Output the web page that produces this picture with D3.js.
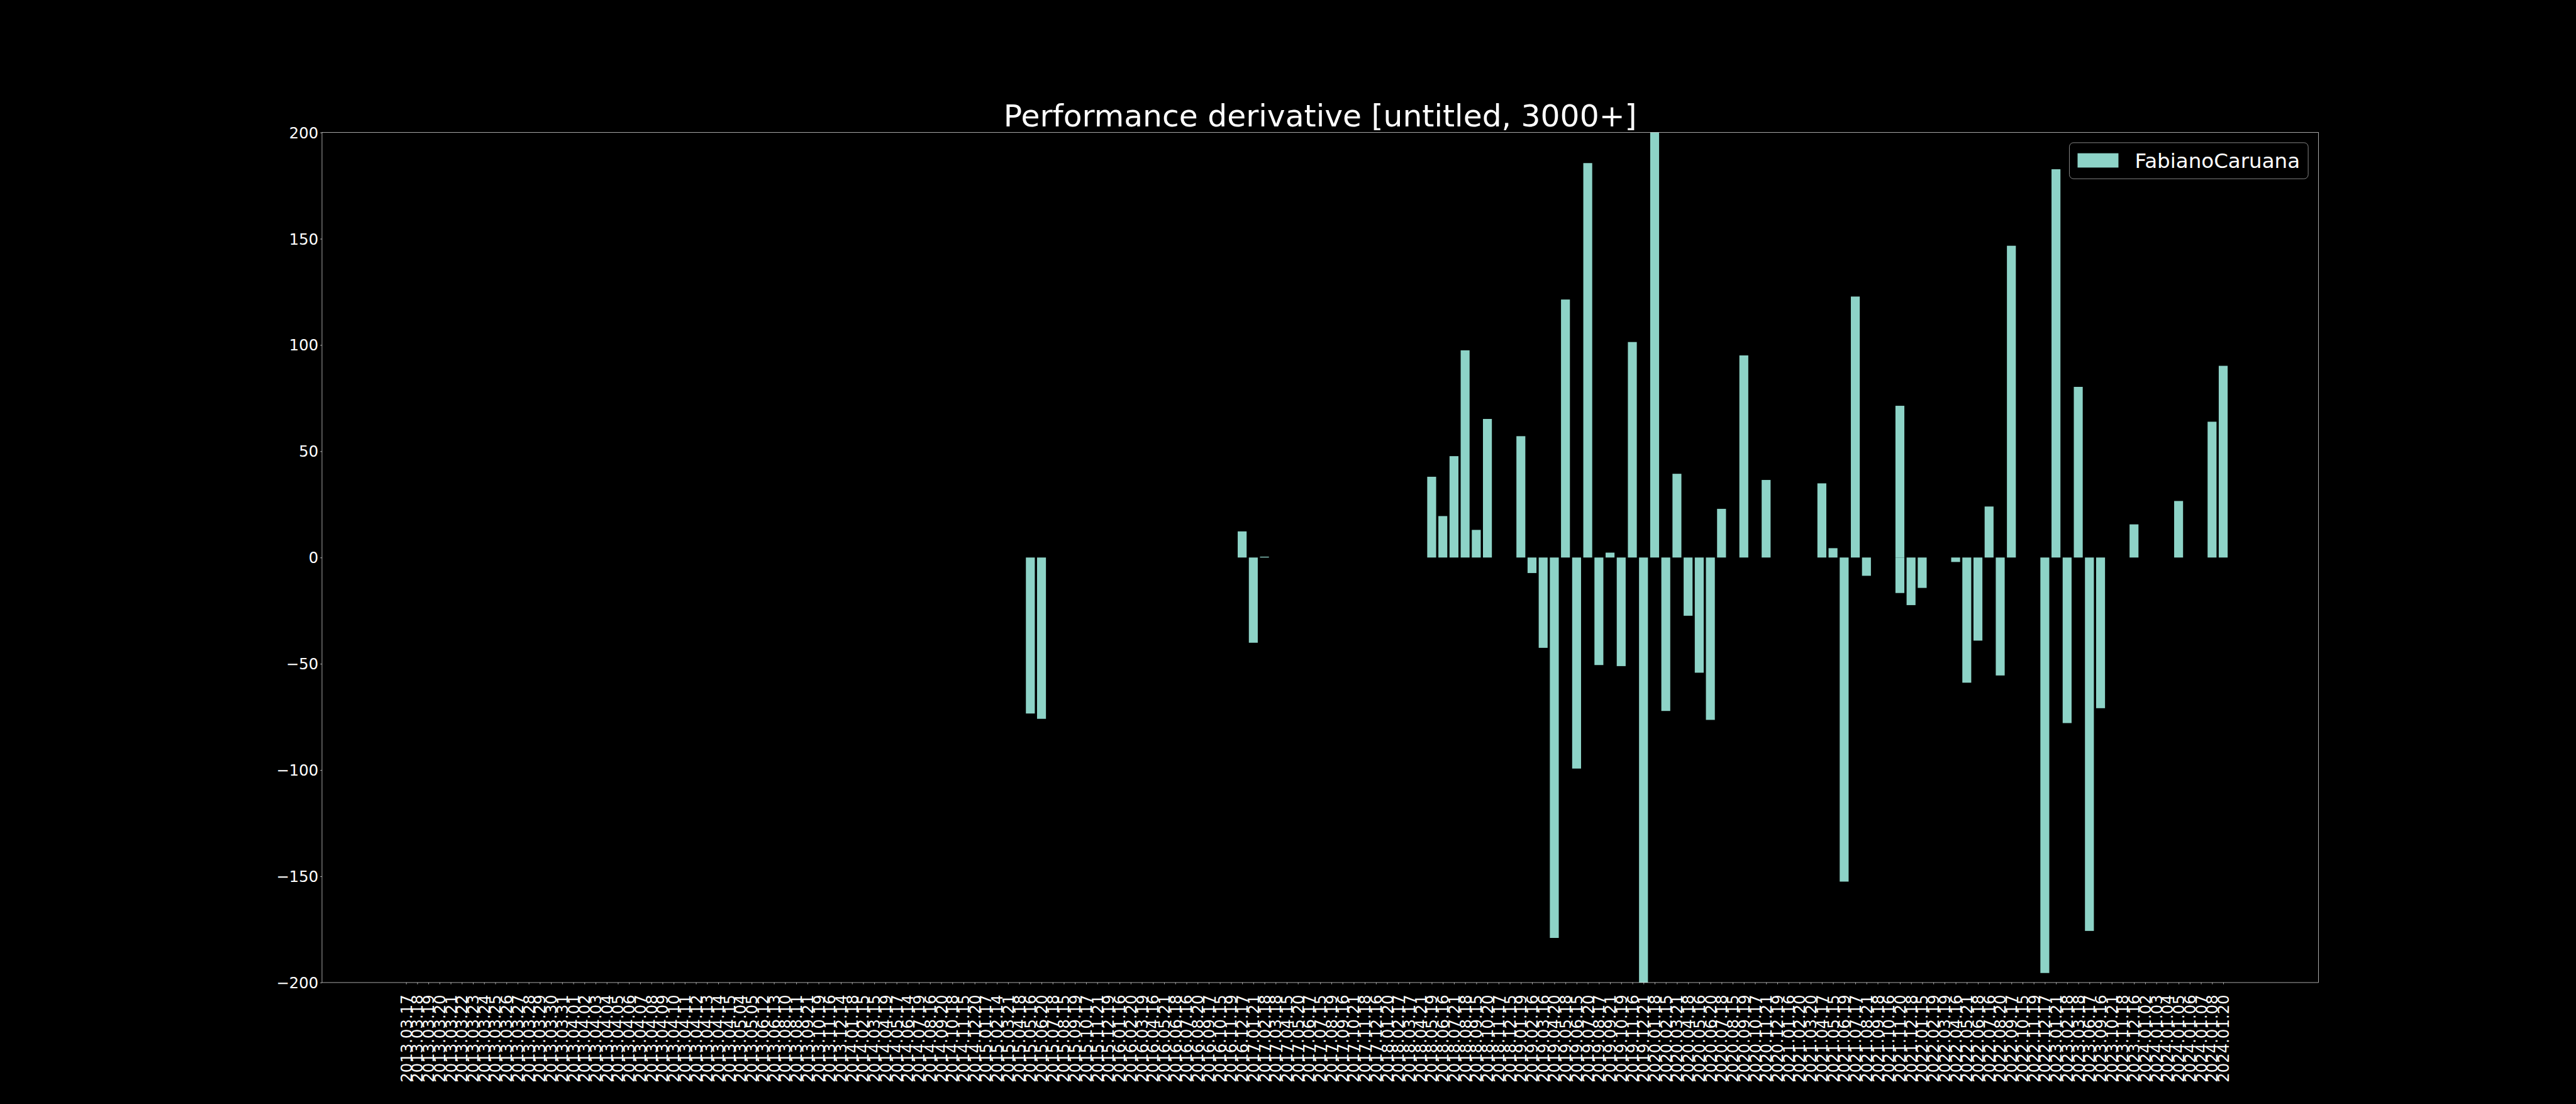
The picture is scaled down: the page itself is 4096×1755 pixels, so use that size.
<!DOCTYPE html>
<html>
<head>
<meta charset="utf-8">
<script src="https://cdn.jsdelivr.net/npm/d3@7"></script>
<style>
html, body { margin: 0; padding: 0; background: #000; overflow: hidden; }
svg { display: block; }
</style>
</head>
<body>
<svg id="chart" width="4096" height="1755"></svg>
<script>
// ---------------- DATA (labels estimated where unreadable) ----------------
const titleText = "Performance derivative [untitled, 3000+]";
const seriesName = "FabianoCaruana";

const dates = [
  // 0-29
  "2013.03.17","2013.03.18","2013.03.19","2013.03.20","2013.03.21","2013.03.22","2013.03.23","2013.03.24","2013.03.25","2013.03.26",
  "2013.03.27","2013.03.28","2013.03.29","2013.03.30","2013.03.31","2013.04.01","2013.04.02","2013.04.03","2013.04.04","2013.04.05",
  "2013.04.06","2013.04.07","2013.04.08","2013.04.09","2013.04.10","2013.04.11","2013.04.12","2013.04.13","2013.04.14","2013.04.15",
  // 30-40
  "2013.05.04","2013.05.05","2013.06.12","2013.06.13","2013.08.10","2013.08.11","2013.09.21","2013.10.19","2013.11.16","2013.12.14","2014.01.18",
  // 41-55
  "2014.02.15","2014.03.15","2014.04.19","2014.05.17","2014.06.14","2014.07.19","2014.08.16","2014.09.20","2014.10.18","2014.11.15",
  "2014.12.20","2015.01.17","2015.02.14","2015.03.21","2015.04.18",
  // 56-77
  "2015.05.16","2015.06.20","2015.07.18","2015.08.15","2015.09.19","2015.10.17","2015.11.21","2015.12.19","2016.01.16","2016.02.20",
  "2016.03.19","2016.04.16","2016.05.21","2016.06.18","2016.07.16","2016.08.20","2016.09.17","2016.10.15","2016.11.19","2016.12.17",
  "2017.01.21","2017.02.18",
  // 78-91
  "2017.03.18","2017.04.15","2017.05.20","2017.06.17","2017.07.15","2017.08.19","2017.09.16","2017.10.21","2017.11.18","2017.12.16",
  "2018.01.20","2018.02.17","2018.03.17","2018.04.21",
  // 92-118
  "2018.05.19","2018.06.16","2018.07.21","2018.08.18","2018.09.15","2018.10.20","2018.11.17","2018.12.15","2019.01.19","2019.02.16",
  "2019.03.16","2019.04.20","2019.05.18","2019.06.15","2019.07.20","2019.08.17","2019.09.21","2019.10.19","2019.11.16","2019.12.21",
  "2020.01.18","2020.02.15","2020.03.21","2020.04.18","2020.05.16","2020.06.20","2020.07.18",
  // 119-133
  "2020.08.15","2020.09.19","2020.10.17","2020.11.21","2020.12.19","2021.01.16","2021.02.20","2021.03.20","2021.04.17","2021.05.15",
  "2021.06.19","2021.07.17","2021.08.21","2021.09.18","2021.10.16",
  // 134 (two entries share one date -> one category)
  "2021.11.20","2021.11.20",
  // 135-150
  "2021.12.18","2022.01.15","2022.02.19","2022.03.19","2022.04.16","2022.05.21","2022.06.18","2022.07.16","2022.08.20","2022.09.17",
  "2022.10.15","2022.11.19","2022.12.17","2023.01.21","2023.02.18","2023.03.18",
  // 151-163
  "2023.06.17","2023.09.16","2023.10.21","2023.11.18","2023.12.16","2024.01.02","2024.01.03","2024.01.04","2024.01.05","2024.01.06",
  "2024.01.07","2024.01.08","2024.01.20"
];

const values = [
  // 0-29
  null,0,0,0,0,0,0,0,0,0, 0,0,0,0,0,0,0,0,0,0, 0,0,0,0,0,0,0,0,0,0,
  // 30-40
  0,0,0,0,0,0,0,0,0,0,0,
  // 41-55
  0,0,0,0,0,0,0,0,0,0,0,0,0,0,0,
  // 56-77
  -73.4,-75.9,0,0,0,0,0,0,0,0,0,0,0,0,0,0,0,0,0,12.3,-40.1,0.4,
  // 78-91
  0,0,0,0,0,0,0,0,0,0,0,0,0,0,
  // 92-118
  38.0,19.5,47.7,97.5,13.0,65.2,0,0,57.1,-7.3,-42.5,-179.0,121.4,-99.3,185.6,-50.6,2.3,-51.1,101.4,-214,230,-72.2,39.4,-27.4,-54.2,-76.4,22.9,
  // 119-133
  0,95.1,0,36.5,0,0,0,0,34.9,4.4,-152.5,122.8,-8.6,0,0,
  // 134
  71.4,-16.7,
  // 135-150
  -22.4,-14.3,0,0,-2.1,-58.9,-39.1,24.0,-55.5,146.7,0,0,-195.5,182.7,-77.9,80.3,
  // 151-163
  -175.7,-70.9,0,0,15.6,0,0,0,26.6,0,0,63.9,90.2
];

const yTicks = [-200,-150,-100,-50,0,50,100,150,200];
const yDomain = [-200, 200];

// ---------------- LAYOUT ----------------
const W = 4096, H = 1755;
const PT = (100 / 72) * 0.585;          // px per point at this size
const L = 0.125 * W, R = 0.9 * W, T = 0.12 * H, B = 0.89 * H;
const barColor = "#8dd3c7";
const font = "'DejaVu Sans', 'Liberation Sans', sans-serif";
const tickFs = 30 * PT, titleFs = 60 * PT, legFs = 40 * PT;
const tickLen = 3.5 * PT, tickPad = 3.5 * PT, lw = 0.8 * PT;

const svg = d3.select("#chart");
svg.append("rect").attr("width", W).attr("height", H).attr("fill", "#000");

// categories
const cats = Array.from(new Set(dates));
const pos = new Map(cats.map((c, i) => [c, i]));
const data = dates.map((d, i) => ({ d, p: pos.get(d), v: values[i] })).filter(e => e.v !== null);

const lo = d3.min(data, e => e.p) - 0.4, hi = d3.max(data, e => e.p) + 0.4;
const m = 0.05 * (hi - lo);
const x = d3.scaleLinear().domain([lo - m, hi + m]).range([L, R]);
const y = d3.scaleLinear().domain(yDomain).range([B, T]);

// clip
svg.append("defs").append("clipPath").attr("id", "plotclip")
  .append("rect").attr("x", L).attr("y", T).attr("width", R - L).attr("height", B - T);

// bars
svg.append("g").attr("clip-path", "url(#plotclip)")
  .selectAll("rect").data(data).join("rect")
  .attr("x", e => x(e.p - 0.4))
  .attr("width", e => x(e.p + 0.4) - x(e.p - 0.4))
  .attr("y", e => y(Math.max(0, e.v)))
  .attr("height", e => Math.abs(y(e.v) - y(0)))
  .attr("fill", barColor);

// y axis
const yAxis = svg.append("g").attr("transform", `translate(${L},0)`)
  .call(d3.axisLeft(y).tickValues(yTicks).tickSize(tickLen).tickPadding(tickPad).tickSizeOuter(0));
yAxis.select(".domain").remove();
yAxis.selectAll(".tick line").attr("stroke", "#fff").attr("stroke-width", lw);
yAxis.selectAll(".tick text")
  .attr("fill", "#fff").attr("font-family", font).attr("font-size", tickFs)
  .attr("dy", null).attr("dominant-baseline", "central");

// x axis
const xAxis = svg.append("g").attr("transform", `translate(0,${B})`)
  .call(d3.axisBottom(x).tickValues(cats.map((c, i) => i)).tickFormat(i => cats[i])
    .tickSize(tickLen).tickPadding(tickPad).tickSizeOuter(0));
xAxis.select(".domain").remove();
xAxis.selectAll(".tick line").attr("stroke", "#fff").attr("stroke-width", lw);
xAxis.selectAll(".tick text")
  .attr("fill", "#fff").attr("font-family", font).attr("font-size", tickFs)
  .attr("x", 0).attr("y", 0).attr("dy", null)
  .attr("text-anchor", "end").attr("dominant-baseline", "central")
  .attr("transform", `translate(0,${19.4}) rotate(-90)`);

// spines
svg.append("rect").attr("x", L).attr("y", T).attr("width", R - L).attr("height", B - T)
  .attr("fill", "none").attr("stroke", "#fff").attr("stroke-width", lw);

// title
svg.append("text").attr("x", (L + R) / 2).attr("y", T - 10.1)
  .attr("text-anchor", "middle").attr("fill", "#fff")
  .attr("font-family", font).attr("font-size", titleFs).text(titleText);

// legend
const leg = svg.append("g");
const legBox = leg.append("rect");
const legText = leg.append("text").attr("fill", "#fff").attr("font-family", font)
  .attr("font-size", legFs).text(seriesName);
const tw = legText.node().getComputedTextLength();
const bpad = 0.4 * legFs, hlen = 2.0 * legFs, htp = 0.8 * legFs, hh = 0.7 * legFs, axpad = 0.5 * legFs;
const boxW = bpad + hlen + htp + tw + bpad;
const boxH = 57.3;
const bx = R - axpad - boxW, by = T + axpad;
legBox.attr("x", bx).attr("y", by).attr("width", boxW).attr("height", boxH)
  .attr("rx", 0.2 * legFs).attr("ry", 0.2 * legFs)
  .attr("fill", "#000").attr("fill-opacity", 0.8)
  .attr("stroke", "#a3a3a3").attr("stroke-width", 1.0 * PT);
leg.append("rect").attr("x", bx + bpad).attr("y", by + boxH / 2 - hh / 2 - 0.5)
  .attr("width", hlen).attr("height", hh).attr("fill", barColor);
legText.attr("x", bx + bpad + hlen + htp).attr("y", by + boxH / 2 + 0.36 * legFs * 1.0 + 0.2);
</script>
</body>
</html>
